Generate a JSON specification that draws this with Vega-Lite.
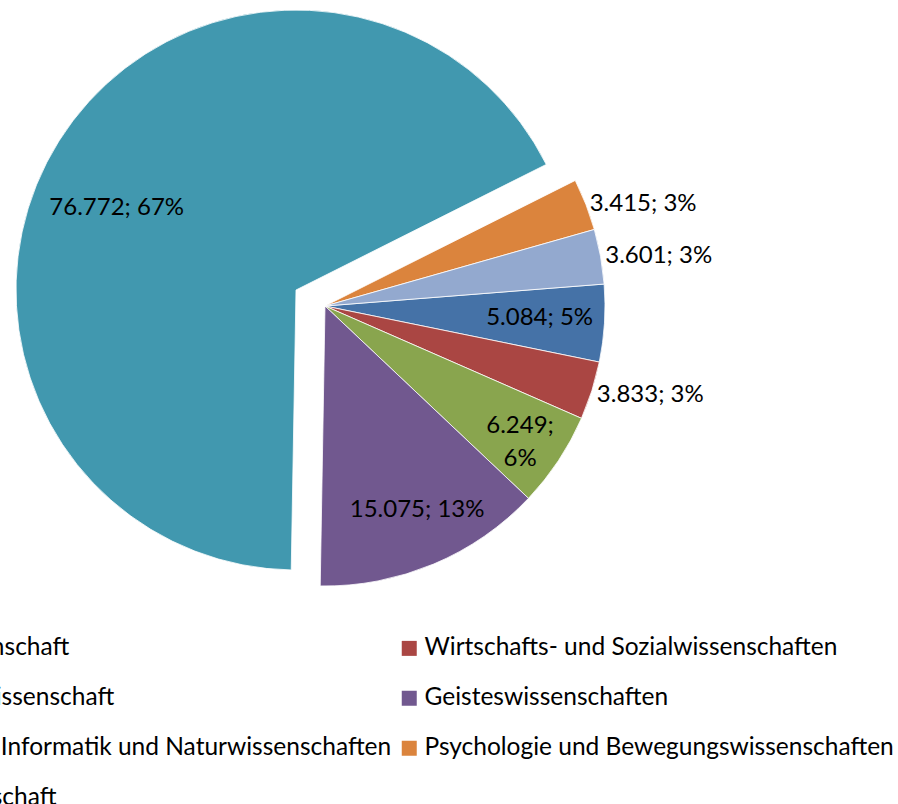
{
  "$schema": "https://vega.github.io/schema/vega-lite/v6.json",
  "width": 650,
  "height": 612,
  "autosize": {"type": "none"},
  "padding": {"left": 0, "top": 0, "right": 248, "bottom": 192},
  "background": "#ffffff",
  "config": {"view": {"stroke": null}, "font": "Lato"},
  "data": {
    "values": [
      {"bereich": "Rechtswissenschaft", "wert": 5084, "label": "5.084; 5%"},
      {"bereich": "Wirtschafts- und Sozialwissenschaften", "wert": 3833, "label": "3.833; 3%"},
      {"bereich": "Erziehungswissenschaft", "wert": 6249, "label": ["6.249;", "6%"]},
      {"bereich": "Geisteswissenschaften", "wert": 15075, "label": "15.075; 13%"},
      {"bereich": "Mathematik, Informatik und Naturwissenschaften", "wert": 76772, "label": "76.772; 67%"},
      {"bereich": "Psychologie und Bewegungswissenschaften", "wert": 3415, "label": "3.415; 3%"},
      {"bereich": "Betriebswirtschaft", "wert": 3601, "label": "3.601; 3%"}
    ]
  },
  "transform": [
    {"window": [{"op": "row_number", "as": "nr"}]},
    {"stack": "wert", "groupby": [], "sort": [{"field": "nr"}], "as": ["w0", "w1"]},
    {"calculate": "(datum.w0 + datum.w1) / 2", "as": "wmid"}
  ],
  "layer": [
    {
      "transform": [{"filter": "datum.bereich != 'Mathematik, Informatik und Naturwissenschaften'"}],
      "mark": {"type": "arc", "outerRadius": 280, "stroke": "#ffffff", "strokeWidth": 0.8},
      "encoding": {
        "theta": {"field": "w1", "type": "quantitative", "scale": {"range": [1.4923, 7.7755], "zero": true, "nice": false}},
        "theta2": {"field": "w0"},
        "color": {
          "field": "bereich",
          "type": "nominal",
          "sort": null,
          "scale": {
            "domain": ["Rechtswissenschaft", "Erziehungswissenschaft", "Mathematik, Informatik und Naturwissenschaften", "Betriebswirtschaft", "Wirtschafts- und Sozialwissenschaften", "Geisteswissenschaften", "Psychologie und Bewegungswissenschaften"],
            "range": ["#4572A7", "#89A54E", "#4198AF", "#93A9CF", "#AA4643", "#71588F", "#DB843D"]
          },
          "legend": {
            "orient": "none",
            "legendX": -168,
            "legendY": 636,
            "columns": 2,
            "direction": "vertical",
            "title": null,
            "padding": 0,
            "symbolType": "square",
            "symbolSize": 225,
            "symbolStrokeWidth": 0,
            "labelFont": "Lato",
            "labelFontSize": 24.5,
            "labelColor": "#000000",
            "labelLimit": 800,
            "labelOffset": 3,
            "rowPadding": 25,
            "columnPadding": 5
          }
        }
      }
    },
    {
      "transform": [{"filter": "datum.bereich == 'Mathematik, Informatik und Naturwissenschaften'"}],
      "mark": {"type": "arc", "outerRadius": 280, "stroke": "#ffffff", "strokeWidth": 0.8, "xOffset": -29, "yOffset": -16},
      "encoding": {
        "theta": {"field": "w1", "type": "quantitative"},
        "theta2": {"field": "w0"},
        "color": {"field": "bereich", "type": "nominal"}
      }
    },
    {
      "transform": [{"filter": "datum.bereich == 'Rechtswissenschaft'"}],
      "mark": {"type": "text", "radius": 222, "font": "Lato", "fontSize": 24, "color": "#000000", "xOffset": -7, "yOffset": -2},
      "encoding": {"theta": {"field": "wmid", "type": "quantitative"}, "text": {"field": "label"}}
    },
    {
      "transform": [{"filter": "datum.bereich == 'Erziehungswissenschaft'"}],
      "mark": {"type": "text", "radius": 222, "font": "Lato", "fontSize": 24, "lineHeight": 33, "color": "#000000", "xOffset": 10, "yOffset": -3},
      "encoding": {"theta": {"field": "wmid", "type": "quantitative"}, "text": {"field": "label"}}
    },
    {
      "transform": [{"filter": "datum.bereich == 'Geisteswissenschaften'"}],
      "mark": {"type": "text", "radius": 222, "font": "Lato", "fontSize": 24, "color": "#000000", "xOffset": 6, "yOffset": -1},
      "encoding": {"theta": {"field": "wmid", "type": "quantitative"}, "text": {"field": "label"}}
    },
    {
      "transform": [{"filter": "datum.bereich == 'Wirtschafts- und Sozialwissenschaften'"}],
      "mark": {"type": "text", "radius": 336, "font": "Lato", "fontSize": 24, "color": "#000000", "xOffset": 5, "yOffset": -13},
      "encoding": {"theta": {"field": "wmid", "type": "quantitative"}, "text": {"field": "label"}}
    },
    {
      "transform": [{"filter": "datum.bereich == 'Psychologie und Bewegungswissenschaften'"}],
      "mark": {"type": "text", "radius": 336, "font": "Lato", "fontSize": 24, "color": "#000000", "xOffset": 5, "yOffset": 20},
      "encoding": {"theta": {"field": "wmid", "type": "quantitative"}, "text": {"field": "label"}}
    },
    {
      "transform": [{"filter": "datum.bereich == 'Betriebswirtschaft'"}],
      "mark": {"type": "text", "radius": 336, "font": "Lato", "fontSize": 24, "color": "#000000", "xOffset": 3, "yOffset": 9},
      "encoding": {"theta": {"field": "wmid", "type": "quantitative"}, "text": {"field": "label"}}
    },
    {
      "transform": [{"filter": "datum.bereich == 'Mathematik, Informatik und Naturwissenschaften'"}],
      "mark": {"type": "text", "radius": 200, "font": "Lato", "fontSize": 24, "color": "#000000", "xOffset": -39, "yOffset": 8},
      "encoding": {"theta": {"field": "wmid", "type": "quantitative"}, "text": {"field": "label"}}
    }
  ]
}
